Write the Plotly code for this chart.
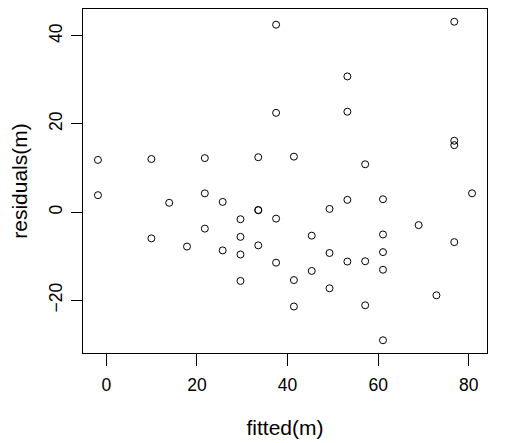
import plotly.graph_objs as go

fitted = [-1.85, -1.85, 9.95, 9.95, 13.88, 17.81, 21.74, 21.74, 21.74, 25.68,
          25.68, 29.61, 29.61, 29.61, 29.61, 33.54, 33.54, 33.54, 33.54, 37.47,
          37.47, 37.47, 37.47, 41.41, 41.41, 41.41, 45.34, 45.34, 49.27, 49.27,
          49.27, 53.21, 53.21, 53.21, 53.21, 57.14, 57.14, 57.14, 61.07, 61.07,
          61.07, 61.07, 61.07, 68.94, 72.87, 76.80, 76.80, 76.80, 76.80, 80.73]
resid = [3.85, 11.85, -5.95, 12.05, 2.12, -7.81, -3.74, 4.26, 12.26, -8.68,
         2.32, -15.61, -9.61, -5.61, -1.61, -7.54, 0.46, 0.46, 12.46, -11.47,
         -1.47, 22.53, 42.53, -21.41, -15.41, 12.59, -13.34, -5.34, -17.27, -9.27,
         0.73, -11.21, 2.79, 22.79, 30.79, -21.14, -11.14, 10.86, -29.07, -13.07,
         -9.07, -5.07, 2.93, -2.94, -18.87, -6.80, 15.20, 16.20, 43.20, 4.27]

xticks = [0, 20, 40, 60, 80]
yticks = [-20, 0, 20, 40]

font = dict(family="Liberation Sans, Arial", size=17.5, color="black")

fig = go.Figure()
fig.add_trace(go.Scatter(x=fitted, y=resid, mode='markers',
                         marker=dict(symbol='circle-open', size=7, color='black',
                                     line=dict(width=1, color='black'))))

# page body has an 8px margin, so the figure is a bit smaller and shifted
fig.update_layout(width=521, height=435, showlegend=False,
                  plot_bgcolor='white', paper_bgcolor='white', font=font,
                  margin=dict(l=75, r=42, t=1, b=90))
fig.update_xaxes(range=[-5.15, 84.03], tickvals=xticks, ticks='outside', ticklen=12,
                 tickwidth=1, tickcolor='black', showline=True, linecolor='black',
                 linewidth=1, mirror=True, showgrid=False, zeroline=False,
                 ticklabelstandoff=4,
                 title=dict(text='fitted(m)', standoff=26), automargin=False)
fig.update_yaxes(range=[-31.96, 46.09], tickvals=yticks, ticks='outside', ticklen=11,
                 tickwidth=1, tickcolor='black', showline=True, linecolor='black',
                 linewidth=1, mirror=True, showgrid=False, zeroline=False,
                 tickangle=-90, ticklabelstandoff=2,
                 title=dict(text='residuals(m)', standoff=30),
                 automargin=False)
fig.write_html("out.html")
